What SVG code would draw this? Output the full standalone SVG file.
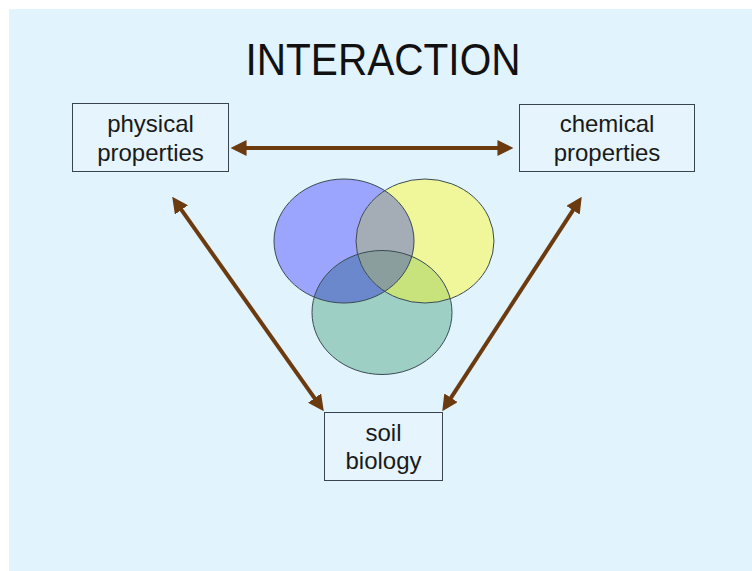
<svg xmlns="http://www.w3.org/2000/svg" width="752" height="571" viewBox="0 0 752 571">
<style>
.box{fill:#E6F4FD;stroke:#3A4450;stroke-width:1}
.lbl{font-family:"Liberation Sans",Arial,sans-serif;font-size:24px;fill:#1A1A1A;text-anchor:middle}
.conn{stroke:#6B3A0F;stroke-width:4;fill:none}
.ol{fill:none;stroke:#3A4A55;stroke-width:1}
</style>
<defs>
<marker id="ah" markerUnits="userSpaceOnUse" markerWidth="16" markerHeight="16" refX="4" refY="7" orient="auto-start-reverse" viewBox="0 0 14 14">
<path d="M0,0 L14,7 L0,14 z" fill="#6B3A0F"/>
</marker>
<ellipse id="eb" cx="344" cy="241" rx="70" ry="62"/>
<ellipse id="ey" cx="425" cy="241" rx="69" ry="62"/>
<ellipse id="et" cx="382" cy="312.5" rx="70" ry="62"/>
<clipPath id="cb"><use href="#eb"/></clipPath>
<clipPath id="cy"><use href="#ey"/></clipPath>
<clipPath id="ct"><use href="#et"/></clipPath>
</defs>
<rect x="0" y="0" width="752" height="571" fill="#FFFFFF"/>
<rect x="9" y="9" width="743" height="562" fill="#E1F3FD"/>
<text x="383" y="75" font-family="Liberation Sans,Arial,sans-serif" font-size="44" fill="#111" text-anchor="middle" textLength="275" lengthAdjust="spacingAndGlyphs">INTERACTION</text>
<g id="venn">
<use href="#eb" fill="#9BA5FD"/>
<use href="#ey" fill="#F0F79A"/>
<use href="#et" fill="#9ECFC4"/>
<g clip-path="url(#cb)"><use href="#ey" fill="#A4ACB6"/></g>
<g clip-path="url(#cb)"><use href="#et" fill="#6B88CC"/></g>
<g clip-path="url(#cy)"><use href="#et" fill="#C8E27C"/></g>
<g clip-path="url(#cb)"><g clip-path="url(#cy)"><use href="#et" fill="#8A9E9E"/></g></g>
<use href="#eb" class="ol"/>
<use href="#ey" class="ol"/>
<use href="#et" class="ol"/>
</g>
<g id="connectors">
<line class="conn" x1="242" y1="148" x2="502" y2="148" marker-start="url(#ah)" marker-end="url(#ah)"/>
<line class="conn" x1="178.8" y1="206.2" x2="317.2" y2="401.8" marker-start="url(#ah)" marker-end="url(#ah)"/>
<line class="conn" x1="575.5" y1="206.4" x2="448.5" y2="401.6" marker-start="url(#ah)" marker-end="url(#ah)"/>
</g>
<g id="physical">
<rect class="box" x="72.5" y="103.5" width="156" height="68"/>
<text class="lbl" x="150.5" y="132">physical</text>
<text class="lbl" x="150.5" y="161">properties</text>
</g>
<g id="chemical">
<rect class="box" x="519.5" y="104.5" width="175" height="67"/>
<text class="lbl" x="607" y="132">chemical</text>
<text class="lbl" x="607" y="161">properties</text>
</g>
<g id="soil">
<rect class="box" x="324.5" y="412.5" width="118" height="68"/>
<text class="lbl" x="383.5" y="441">soil</text>
<text class="lbl" x="383.5" y="469">biology</text>
</g>
</svg>
